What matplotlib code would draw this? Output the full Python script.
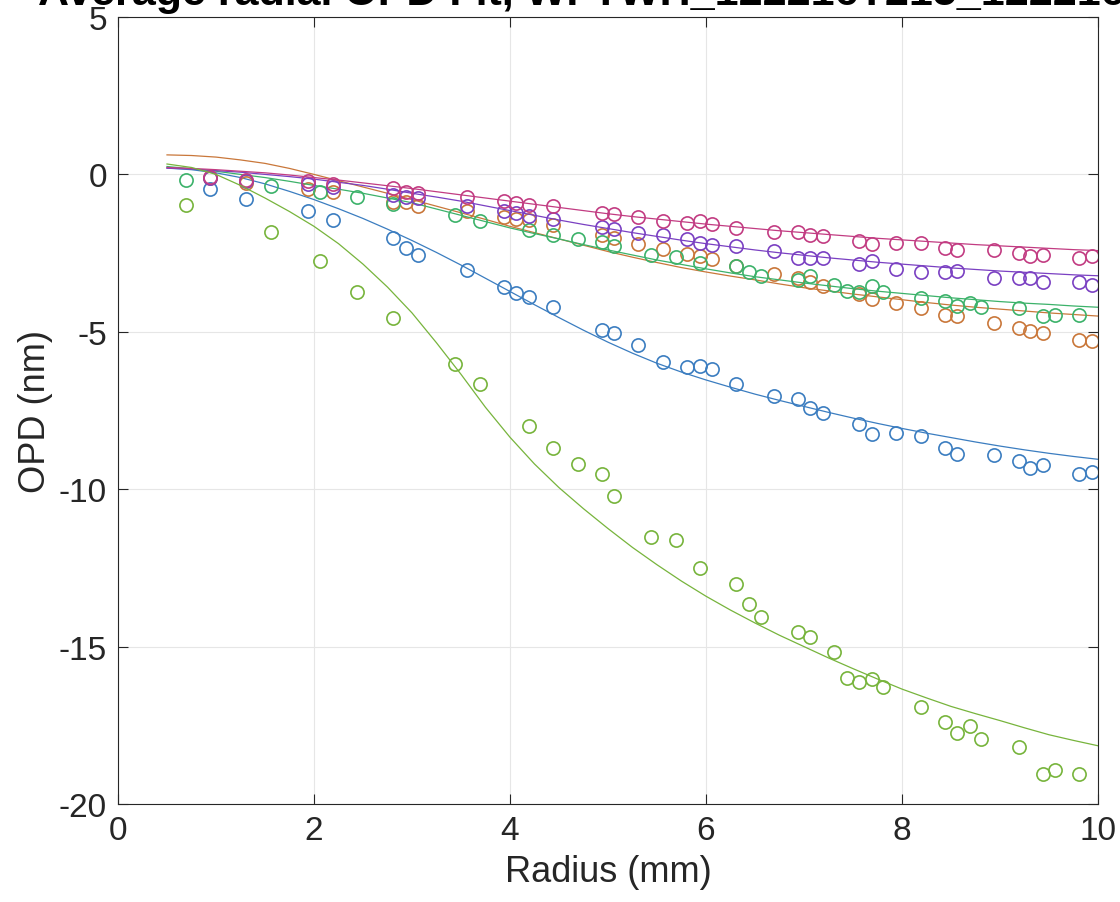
import matplotlib
matplotlib.use("Agg")
import matplotlib.pyplot as plt
import numpy as np

plt.rcParams["font.family"] = ["Liberation Sans", "DejaVu Sans"]
plt.rcParams["axes.unicode_minus"] = False

# Sample radii (mm) for the two sampling grids
r_a = [0.94, 1.31, 1.94, 2.19, 2.81, 2.94, 3.06, 3.56, 3.94, 4.06, 4.19, 4.44,
       4.94, 5.06, 5.31, 5.56, 5.81, 5.94, 6.06, 6.31, 6.69, 6.94, 7.06, 7.19,
       7.56, 7.69, 7.94, 8.19, 8.44, 8.56, 8.94, 9.19, 9.31, 9.44, 9.81, 9.94]
r_b = [0.69, 1.56, 2.06, 2.44, 2.81, 3.44, 3.69, 4.19, 4.44, 4.69, 4.94, 5.06,
       5.44, 5.69, 5.94, 6.31, 6.44, 6.56, 6.94, 7.06, 7.31, 7.44, 7.56, 7.69,
       7.81, 8.19, 8.44, 8.56, 8.69, 8.81, 9.19, 9.44, 9.56, 9.81]

# Measured OPD (nm)
opd_blue = [-0.46, -0.78, -1.15, -1.44, -2.03, -2.34, -2.56, -3.03, -3.59, -3.78,
            -3.89, -4.21, -4.95, -5.03, -5.41, -5.95, -6.11, -6.08, -6.19, -6.67,
            -7.04, -7.13, -7.41, -7.58, -7.93, -8.26, -8.21, -8.32, -8.68, -8.87,
            -8.90, -9.12, -9.33, -9.23, -9.51, -9.46]
opd_orange = [-0.12, -0.28, -0.46, -0.55, -0.89, -0.87, -0.99, -1.15, -1.35, -1.43,
              -1.46, -1.62, -1.93, -2.02, -2.21, -2.37, -2.54, -2.60, -2.69, -2.92,
              -3.16, -3.30, -3.43, -3.53, -3.81, -3.96, -4.10, -4.24, -4.46, -4.51,
              -4.71, -4.89, -4.97, -5.03, -5.25, -5.30]
opd_purple = [-0.13, -0.20, -0.30, -0.41, -0.65, -0.71, -0.76, -1.01, -1.17, -1.22,
              -1.31, -1.41, -1.67, -1.73, -1.87, -1.92, -2.05, -2.19, -2.23, -2.27,
              -2.43, -2.67, -2.64, -2.66, -2.85, -2.76, -3.00, -3.09, -3.09, -3.06,
              -3.30, -3.28, -3.29, -3.43, -3.43, -3.51]
opd_pink = [-0.09, -0.17, -0.22, -0.30, -0.44, -0.55, -0.59, -0.73, -0.83, -0.90,
            -0.96, -1.00, -1.23, -1.25, -1.36, -1.47, -1.54, -1.49, -1.56, -1.70,
            -1.82, -1.84, -1.92, -1.97, -2.10, -2.20, -2.17, -2.19, -2.34, -2.40,
            -2.39, -2.51, -2.58, -2.55, -2.66, -2.60]
opd_green = [-0.17, -0.36, -0.55, -0.73, -0.94, -1.29, -1.47, -1.78, -1.91, -2.05,
             -2.16, -2.28, -2.56, -2.62, -2.82, -2.90, -3.09, -3.24, -3.35, -3.24,
             -3.51, -3.69, -3.75, -3.55, -3.75, -3.94, -4.02, -4.17, -4.08, -4.22,
             -4.23, -4.49, -4.46, -4.47]
opd_lime = [-0.96, -1.84, -2.76, -3.74, -4.57, -6.03, -6.66, -7.98, -8.68, -9.19,
            -9.53, -10.23, -11.53, -11.60, -12.50, -13.00, -13.65, -14.07, -14.55,
            -14.69, -15.16, -15.99, -16.14, -16.03, -16.27, -16.91, -17.40, -17.75,
            -17.53, -17.94, -18.20, -19.05, -18.91, -19.05]

# Fitted radial profiles (nm), sampled every 0.25 mm
r_fit = [0.50, 0.75, 1.00, 1.25, 1.50, 1.75, 2.00, 2.25, 2.50, 2.75,
         3.00, 3.25, 3.50, 3.75, 4.00, 4.25, 4.50, 4.75, 5.00, 5.25,
         5.50, 5.75, 6.00, 6.25, 6.50, 6.75, 7.00, 7.25, 7.50, 7.75,
         8.00, 8.25, 8.50, 8.75, 9.00, 9.25, 9.50, 9.75, 10.00]
fit_blue = [0.20, 0.15, 0.05, -0.10, -0.30, -0.54, -0.80, -1.09, -1.40, -1.74,
            -2.10, -2.48, -2.88, -3.30, -3.72, -4.14, -4.55, -4.95, -5.33, -5.68,
            -6.00, -6.28, -6.53, -6.76, -6.98, -7.18, -7.37, -7.56, -7.74, -7.91,
            -8.07, -8.22, -8.36, -8.50, -8.63, -8.75, -8.86, -8.96, -9.05]
fit_orange = [0.62, 0.60, 0.55, 0.46, 0.35, 0.19, 0.00, -0.20, -0.40, -0.60,
              -0.80, -1.01, -1.22, -1.43, -1.65, -1.85, -2.05, -2.25, -2.45, -2.63,
              -2.80, -2.96, -3.10, -3.23, -3.35, -3.48, -3.60, -3.70, -3.80, -3.89,
              -3.98, -4.07, -4.15, -4.22, -4.28, -4.34, -4.40, -4.45, -4.50]
fit_purple = [0.20, 0.17, 0.12, 0.07, 0.00, -0.07, -0.15, -0.25, -0.35, -0.47,
              -0.60, -0.72, -0.85, -1.00, -1.15, -1.30, -1.45, -1.59, -1.72, -1.85,
              -1.97, -2.09, -2.20, -2.30, -2.40, -2.49, -2.57, -2.65, -2.72, -2.79,
              -2.85, -2.91, -2.97, -3.02, -3.07, -3.11, -3.15, -3.19, -3.22]
fit_pink = [0.22, 0.19, 0.15, 0.10, 0.05, -0.02, -0.10, -0.18, -0.27, -0.36,
            -0.45, -0.55, -0.65, -0.75, -0.85, -0.95, -1.05, -1.15, -1.25, -1.34,
            -1.42, -1.50, -1.58, -1.65, -1.72, -1.79, -1.85, -1.91, -1.97, -2.03,
            -2.08, -2.13, -2.18, -2.23, -2.27, -2.31, -2.35, -2.39, -2.42]
fit_green = [0.25, 0.18, 0.10, 0.00, -0.10, -0.22, -0.35, -0.47, -0.60, -0.75,
             -0.90, -1.10, -1.30, -1.50, -1.70, -1.88, -2.05, -2.23, -2.40, -2.56,
             -2.72, -2.86, -3.00, -3.13, -3.25, -3.35, -3.45, -3.54, -3.63, -3.71,
             -3.78, -3.85, -3.92, -3.98, -4.04, -4.09, -4.13, -4.18, -4.22]
fit_lime = [0.33, 0.22, 0.00, -0.35, -0.75, -1.18, -1.65, -2.20, -2.85, -3.58,
            -4.40, -5.35, -6.35, -7.40, -8.35, -9.20, -9.95, -10.62, -11.25, -11.85,
            -12.40, -12.92, -13.40, -13.84, -14.25, -14.64, -15.00, -15.36, -15.70, -16.03,
            -16.35, -16.63, -16.90, -17.13, -17.35, -17.58, -17.80, -17.98, -18.15]

series = [
    (r_a, opd_blue, fit_blue, "#3b7dc0"),
    (r_a, opd_orange, fit_orange, "#c9773a"),
    (r_b, opd_green, fit_green, "#3cb26a"),
    (r_a, opd_purple, fit_purple, "#7a40c2"),
    (r_a, opd_pink, fit_pink, "#c23c82"),
    (r_b, opd_lime, fit_lime, "#77b43c"),
]

fig = plt.figure(figsize=(11.2, 9.03), dpi=100)
ax = fig.add_axes([118 / 1120, 1 - 805 / 903, 980 / 1120, 787 / 903])

for r, opd, fit, color in series:
    ax.plot(r, opd, linestyle="none", marker="o", markersize=9.5,
            markerfacecolor="none", markeredgecolor=color, markeredgewidth=1.2)
    ax.plot(r_fit, fit, color=color, linewidth=0.9)

ax.set_xlim(0, 10)
ax.set_ylim(-20, 5)
ax.set_xticks([0, 2, 4, 6, 8, 10])
ax.set_yticks([5, 0, -5, -10, -15, -20])
ax.grid(True, color="#e6e6e6", linewidth=0.8)
ax.set_axisbelow(True)
ax.tick_params(direction="in", length=7, width=0.8, labelsize=24,
               colors="#262626", pad=8, top=True, right=True,
               labeltop=False, labelright=False)
for s in ax.spines.values():
    s.set_color("#262626")
    s.set_linewidth(0.8)

ax.set_xlabel("Radius (mm)", fontsize=26, color="#262626", labelpad=6)
ax.set_ylabel("OPD (nm)", fontsize=26, color="#262626", labelpad=4)

fig.text(38 / 1120, 1 - 5 / 903,
         "Average radial OPD Fit, WFTWH_122216T215_122216T030um",
         ha="left", va="baseline", fontsize=31, fontweight="bold",
         color="black")

fig.savefig("out.png", dpi=100)
